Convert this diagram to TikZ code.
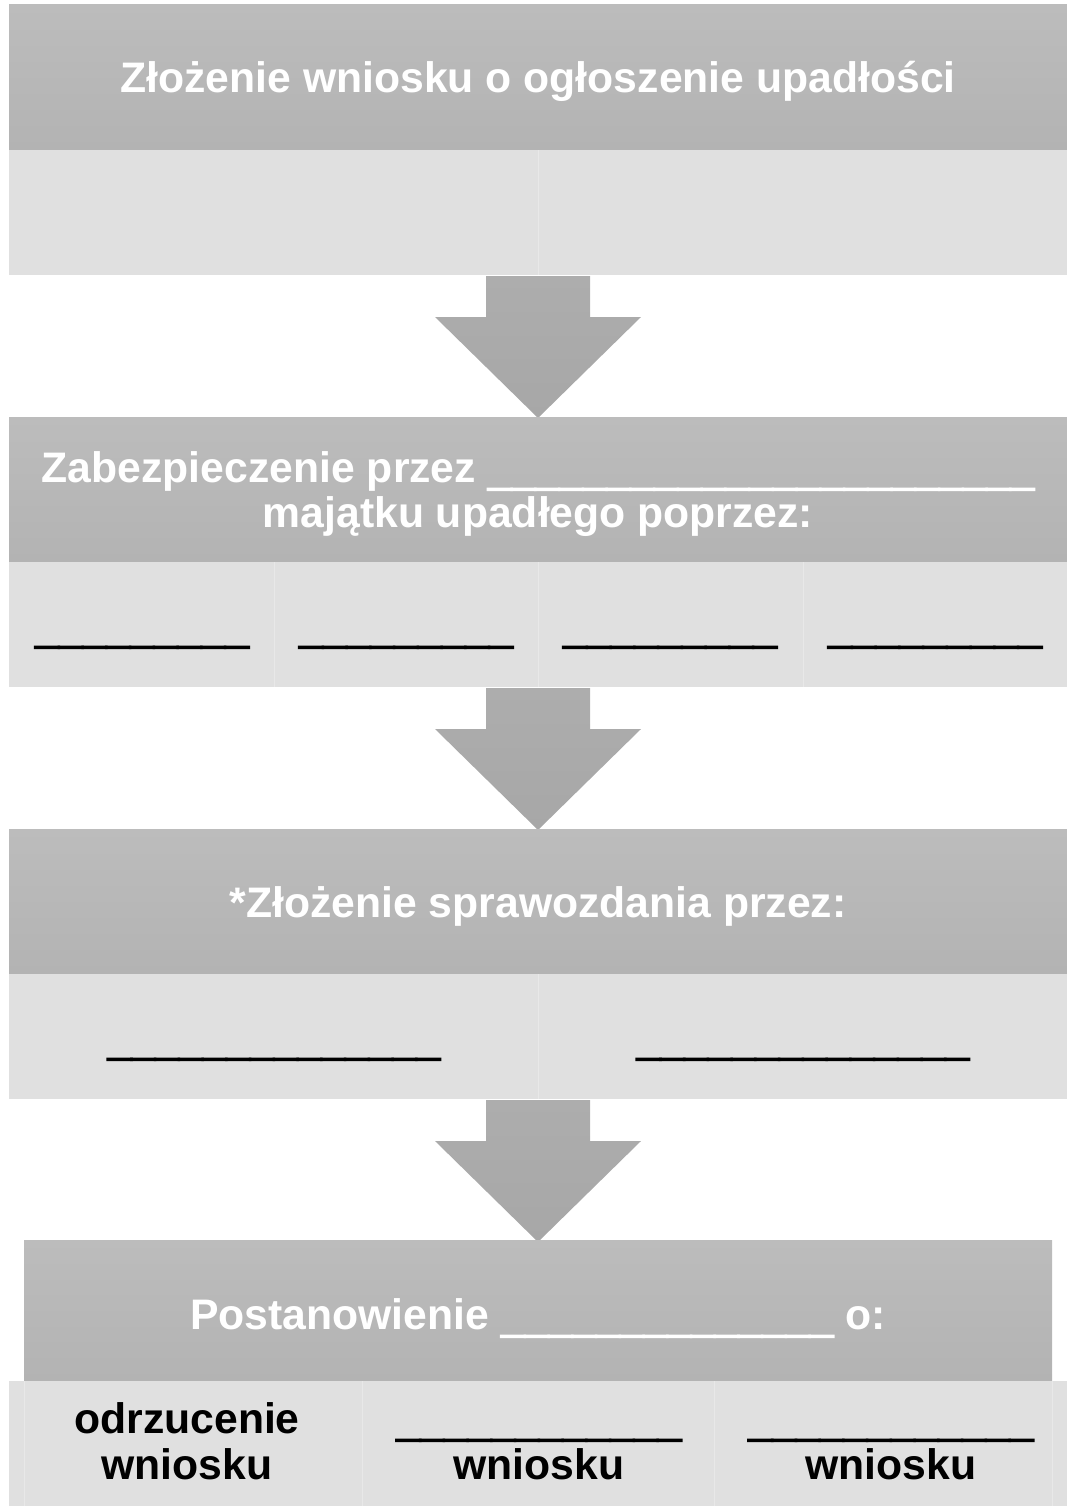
\documentclass[tikz,border=0pt]{standalone}
\usepackage{fontspec}
\setmainfont{Liberation Sans}
\newfontfamily\ulfont[FakeBold=4,BoldFeatures={FakeBold=4}]{Liberation Sans}
\newcommand\ul[1]{\raisebox{-3pt}{\ulfont\bfseries #1}}
\definecolor{hdtop}{HTML}{BCBCBC}
\definecolor{hdbot}{HTML}{B3B3B3}
\definecolor{bodyc}{HTML}{E0E0E0}
\definecolor{splitc}{HTML}{E8E8E8}
\definecolor{arrtop}{HTML}{ADADAD}
\definecolor{arrbot}{HTML}{A7A7A7}
\tikzset{
  header/.style={top color=hdtop,bottom color=hdbot,draw=none},
  bodybox/.style={fill=bodyc,draw=none},
  splitline/.style={draw=splitc,line width=1pt},
  blockarrow/.style={top color=arrtop,bottom color=arrbot,draw=none},
  htext/.style={text=white,font=\fontsize{42.7}{47}\selectfont\bfseries,align=center,inner sep=0pt},
  btext/.style={text=black,font=\fontsize{42.7}{47}\selectfont\bfseries,align=center,inner sep=0pt},
}
\begin{document}
\begin{tikzpicture}[x=1pt,y=-1pt]
\useasboundingbox (0,0) rectangle (1067,1506);
% ---------- box 1
\path[header] (9,5) rectangle (1067,150);
\path[bodybox] (9,150) rectangle (1067,275);
\draw[splitline] (538,150) -- (538,275);
\node[htext,anchor=base] (h1) at (538,93) {Złożenie wniosku o ogłoszenie upadłości};
% ---------- arrow 1
\path[blockarrow] (486,276) -- (590,276) -- (590,317) -- (641,317) -- (538,418) -- (435,317) -- (486,317) -- cycle;
% ---------- box 2
\path[header] (9,417) rectangle (1067,562);
\path[bodybox] (9,562) rectangle (1067,687);
\draw[splitline] (274,562) -- (274,687) (538,562) -- (538,687) (803,562) -- (803,687);
\node[htext,anchor=base] (h2a) at (538,482) {Zabezpieczenie przez \ul{\_\_\_\_\_\_\_\_\_\_\_\_\_\_\_\_\_\_\_\_\_\_\_}};
\node[htext,anchor=base] (h2b) at (538,527) {majątku upadłego poprzez:};
\node[btext,anchor=base] (b2a) at (142,640) {\ul{\_\_\_\_\_\_\_\_\_}};
\node[btext,anchor=base] (b2b) at (406,640) {\ul{\_\_\_\_\_\_\_\_\_}};
\node[btext,anchor=base] (b2c) at (670,640) {\ul{\_\_\_\_\_\_\_\_\_}};
\node[btext,anchor=base] (b2d) at (935,640) {\ul{\_\_\_\_\_\_\_\_\_}};
% ---------- arrow 2
\path[blockarrow] (486,688) -- (590,688) -- (590,729) -- (641,729) -- (538,830) -- (435,729) -- (486,729) -- cycle;
% ---------- box 3
\path[header] (9,829) rectangle (1067,974);
\path[bodybox] (9,974) rectangle (1067,1099);
\draw[splitline] (538,974) -- (538,1099);
\node[htext,anchor=base] (h3) at (538,917) {*Złożenie sprawozdania przez:};
\node[btext,anchor=base] (b3a) at (274,1052) {\ul{\_\_\_\_\_\_\_\_\_\_\_\_\_\_}};
\node[btext,anchor=base] (b3b) at (803,1052) {\ul{\_\_\_\_\_\_\_\_\_\_\_\_\_\_}};
% ---------- arrow 3
\path[blockarrow] (486,1100) -- (590,1100) -- (590,1141) -- (641,1141) -- (538,1242) -- (435,1141) -- (486,1141) -- cycle;
% ---------- box 4
\path[header] (24,1240) rectangle (1052,1381);
\path[bodybox] (9,1381) rectangle (1067,1506);
\draw[splitline] (24,1381) -- (24,1506) (362,1381) -- (362,1506) (714,1381) -- (714,1506) (1052,1381) -- (1052,1506);
\node[htext,anchor=base] (h4) at (538,1329) {Postanowienie \ul{\_\_\_\_\_\_\_\_\_\_\_\_\_\_} o:};
\node[btext,anchor=base] (b4a1) at (187,1433) {odrzucenie};
\node[btext,anchor=base] (b4a2) at (187,1479) {wniosku};
\node[btext,anchor=base] (b4b1) at (539,1433) {\ul{\_\_\_\_\_\_\_\_\_\_\_\_}};
\node[btext,anchor=base] (b4b2) at (539,1479) {wniosku};
\node[btext,anchor=base] (b4c1) at (891,1433) {\ul{\_\_\_\_\_\_\_\_\_\_\_\_}};
\node[btext,anchor=base] (b4c2) at (891,1479) {wniosku};
\end{tikzpicture}
\end{document}
